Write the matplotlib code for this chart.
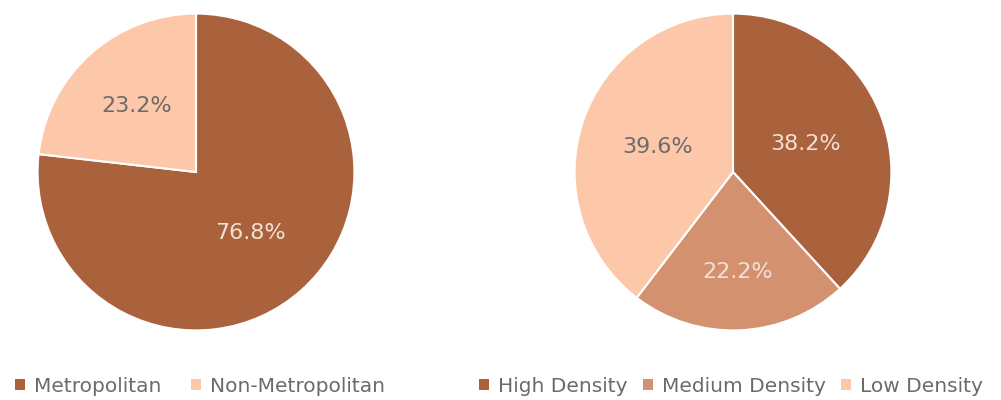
import matplotlib
matplotlib.use("Agg")
import matplotlib.pyplot as plt
import numpy as np
from matplotlib.patches import Patch

# data
area_labels = ["Metropolitan", "Non-Metropolitan"]
area_values = [76.8, 23.2]

density_labels = ["High Density", "Medium Density", "Low Density"]
density_values = [38.2, 22.2, 39.6]

DARK = "#A9623C"
MEDIUM = "#D4916F"
LIGHT = "#FDC8A9"
TEXT_GRAY = "#6b6b6b"
TEXT_LIGHT = "#f3e0d5"

plt.rcParams['font.family'] = ['DejaVu Sans']

W, H = 1001, 400
fig = plt.figure(figsize=(W / 100, H / 100), dpi=100)


def draw_pie(cx, cy, r, values, colors, text_colors, dists):
    ax = fig.add_axes([(cx - r) / W, (H - cy - r) / H, 2 * r / W, 2 * r / H])
    wedges, _ = ax.pie(values, colors=colors, startangle=90, counterclock=False,
                       radius=1, wedgeprops=dict(edgecolor="white", linewidth=1.5))
    for w, v, tc, d in zip(wedges, values, text_colors, dists):
        ang = np.deg2rad((w.theta1 + w.theta2) / 2)
        ax.text(d * np.cos(ang), d * np.sin(ang), f"{v:.1f}%", ha="center", va="center",
                fontsize=16, color=tc)
    ax.set_xlim(-1.01, 1.01)
    ax.set_ylim(-1.01, 1.01)
    ax.set_aspect("equal")
    ax.axis("off")
    return ax


draw_pie(196, 172, 160, area_values, [DARK, LIGHT], [TEXT_LIGHT, TEXT_GRAY], [0.52, 0.56])
draw_pie(733, 172, 160, density_values, [DARK, MEDIUM, LIGHT],
         [TEXT_LIGHT, TEXT_LIGHT, TEXT_GRAY], [0.49, 0.63, 0.50])


def add_legend(x, labels, colors, spacing):
    handles = [Patch(facecolor=c, edgecolor="none") for c in colors]
    leg = fig.legend(handles, labels, loc="center left", bbox_to_anchor=(x / W, 1 - 386 / H),
                     ncol=len(labels), frameon=False, fontsize=14.5, handlelength=0.5,
                     handleheight=0.5, handletextpad=0.45, columnspacing=spacing,
                     borderpad=0, borderaxespad=0)
    for t in leg.get_texts():
        t.set_color(TEXT_GRAY)


add_legend(15, area_labels, [DARK, LIGHT], 1.45)
add_legend(479, density_labels, [DARK, MEDIUM, LIGHT], 0.75)

fig.savefig("out.png", dpi=100)
